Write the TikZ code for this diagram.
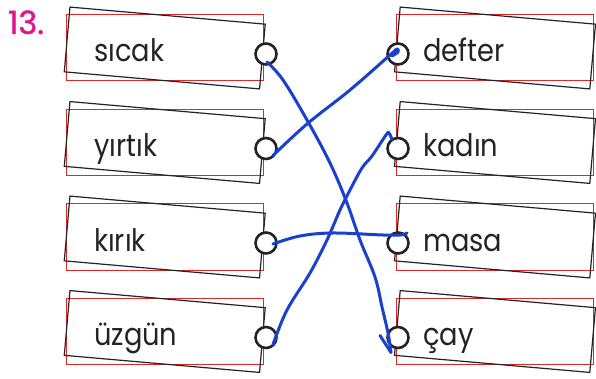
\documentclass[tikz,border=0pt]{standalone}
\usepackage{fontspec}
\setmainfont{Poppins}[FakeStretch=0.88]
\newfontfamily\numfont{Poppins}[FakeBold=1.2]
\definecolor{pink}{RGB}{230,20,140}
\definecolor{pen}{RGB}{25,65,205}
\definecolor{ink}{RGB}{35,35,35}
\definecolor{redline}{RGB}{220,40,40}
\begin{document}
\begin{tikzpicture}[x=1pt,y=-1pt,
  redbox/.style={draw=redline,line width=1pt,minimum width=197pt,minimum height=66pt,inner sep=0pt},
  card/.style={draw=ink,line width=1.2pt,minimum width=196pt,minimum height=65pt,inner sep=0pt,rotate=-5},
  hole/.style={circle,draw=ink,fill=white,line width=2.6pt,minimum size=21pt,inner sep=0pt},
  word/.style={anchor=base west,inner sep=0pt,text=ink,font=\fontsize{31}{31}\selectfont},
  penline/.style={draw=pen,line width=3pt,line cap=round,line join=round}]
\useasboundingbox (0,0) rectangle (596,379);
\node[anchor=base west,inner sep=0pt,text=pink,font=\numfont\fontsize{32}{32}\selectfont] (num) at (8,34) {13.};
% left column
\foreach \i/\w in {0/sıcak,1/yırtık,2/kırık,3/üzgün}{
  \node[redbox] (lr\i) at (164.5,48+94.5*\i) {};
  \node[card] (lc\i) at (164.75,48+94.5*\i) {};
  \node[hole] (lh\i) at (266,54+94.5*\i) {};
  \node[word] (lw\i) at (94,62+94.5*\i) {\w};
}
% right column
\foreach \i/\w in {0/defter,1/kadın,2/masa,3/çay}{
  \node[redbox] (rr\i) at (495,48+94.5*\i) {};
  \node[card] (rc\i) at (495,48+94.5*\i) {};
  \node[hole] (rh\i) at (398,54+94.5*\i) {};
  \node[word] (rw\i) at (423,62+94.5*\i) {\w};
}
% connectors
\coordinate (a1) at ([shift={(1,8)}]lh0.center);
\coordinate (a2) at ([shift={(-7,15)}]rh3.center);
\draw[penline] plot[smooth,tension=0.6] coordinates {(a1) (283,80) (307,120) (330,163) (347,203) (360,240) (375,277) (382,307) (388,333) (a2)};
\coordinate (a3) at ([shift={(-18,-2)}]rh3.center);
\draw[penline] (a3) -- (a2);
\coordinate (b1) at ([shift={(7,7)}]lh1.center);
\coordinate (b2) at ([shift={(-6,2)}]rh0.center);
\draw[penline] plot[smooth,tension=0.6] coordinates {(b1) (307,124) (350,90) (390,55) (397,49) (398,52) (b2)};
\coordinate (c1) at ([shift={(7,7)}]lh3.center);
\coordinate (c2) at ([shift={(-6,-9)}]rh1.center);
\draw[penline] plot[smooth,tension=0.6] coordinates {(c1) (287,310) (310,273) (327,240) (340,210) (350,190) (362,168) (372,156) (386,135) (389,133) (c2)};
\coordinate (d1) at ([shift={(7,1)}]lh2.center);
\coordinate (d2) at ([shift={(9,-10)}]rh2.center);
\draw[penline] plot[smooth,tension=0.6] coordinates {(d1) (300,236) (333,233) (383,235) (400,235) (d2)};
\end{tikzpicture}
\end{document}
